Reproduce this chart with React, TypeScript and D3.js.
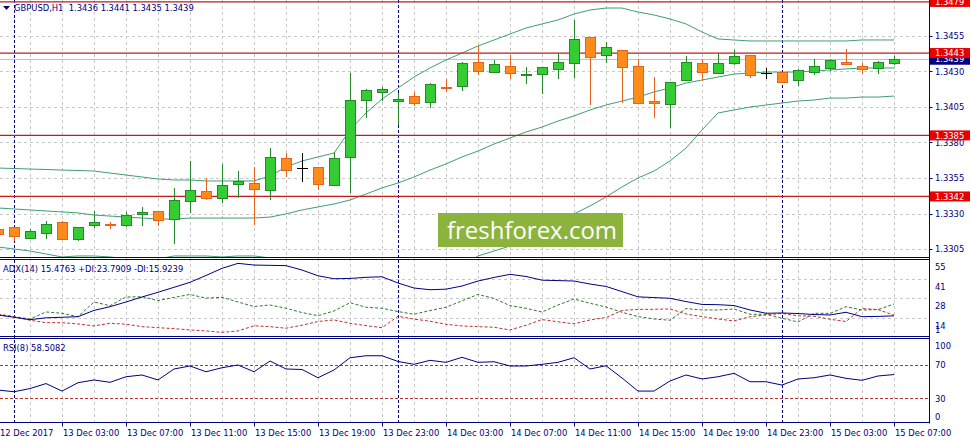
import React from "react";
import * as d3 from "d3";

// GBPUSD H1, bars from 12 Dec 23:00 to 15 Dec 07:00
const OPEN = [
  1.33191, 1.33205, 1.33127, 1.33163, 1.3324, 1.3312, 1.33219, 1.33226, 1.33219, 1.33297,
  1.33318, 1.33261, 1.33388, 1.33458, 1.33409, 1.33508, 1.33515, 1.33466, 1.33691, 1.3362,
  1.33628, 1.33501, 1.33698, 1.34099, 1.34156, 1.34092, 1.34127, 1.34085, 1.34191, 1.34198,
  1.34367, 1.34296, 1.34339, 1.34279, 1.34282, 1.34318, 1.3436, 1.34543, 1.34416, 1.34451,
  1.34339, 1.34092, 1.34071, 1.3424, 1.3436, 1.34289, 1.3436, 1.34416, 1.34289, 1.34296,
  1.3424, 1.34296, 1.34325, 1.34367, 1.34339, 1.34325, 1.3436,
];
const HIGH = [
  1.33205, 1.33205, 1.33191, 1.33247, 1.33247, 1.33205, 1.33318, 1.3324, 1.33311, 1.33346,
  1.33318, 1.3348, 1.3367, 1.3355, 1.33649, 1.33599, 1.33628, 1.33761, 1.33726, 1.33726,
  1.33628, 1.33733, 1.34289, 1.34177, 1.34191, 1.34149, 1.34156, 1.34219, 1.34247, 1.34367,
  1.3448, 1.34381, 1.34416, 1.34332, 1.34332, 1.3443, 1.34663, 1.34543, 1.34508, 1.34451,
  1.34388, 1.34261, 1.34226, 1.34409, 1.34388, 1.3443, 1.34451, 1.34416, 1.34325, 1.34296,
  1.34318, 1.34388, 1.34388, 1.34458, 1.3436, 1.34374, 1.3441,
];
const LOW = [
  1.33142, 1.33113, 1.33127, 1.33127, 1.3312, 1.33113, 1.33205, 1.33198, 1.33212, 1.33219,
  1.33219, 1.33092, 1.33311, 1.33402, 1.33381, 1.33416, 1.33226, 1.33402, 1.33564, 1.33529,
  1.33473, 1.33501, 1.33451, 1.3398, 1.34099, 1.3393, 1.34064, 1.3405, 1.34163, 1.3417,
  1.34282, 1.34296, 1.34254, 1.34219, 1.34149, 1.34254, 1.34261, 1.34071, 1.34367, 1.34085,
  1.34078, 1.3398, 1.33909, 1.3424, 1.3424, 1.34289, 1.34353, 1.34261, 1.34254, 1.34226,
  1.34205, 1.34282, 1.34311, 1.34353, 1.34289, 1.34289, 1.3435,
];
const CLOSE = [
  1.33156, 1.33142, 1.33177, 1.33226, 1.3312, 1.33205, 1.3324, 1.33219, 1.33289, 1.33311,
  1.33254, 1.33395, 1.33466, 1.33409, 1.33501, 1.33529, 1.33473, 1.33698, 1.33606, 1.3362,
  1.33508, 1.33691, 1.34099, 1.3417, 1.34177, 1.34106, 1.34078, 1.34212, 1.34187, 1.3436,
  1.34304, 1.34353, 1.34289, 1.34282, 1.34332, 1.34367, 1.34529, 1.34402, 1.34473, 1.34332,
  1.34078, 1.34078, 1.34226, 1.34367, 1.34296, 1.3436, 1.34409, 1.34275, 1.34289, 1.34226,
  1.34311, 1.34339, 1.34381, 1.34353, 1.34318, 1.34367, 1.3439,
];

// Bollinger bands
const BB_UPPER = [
  1.3362, 1.33617, 1.33613, 1.3361, 1.33606, 1.33603, 1.33599, 1.33585, 1.33571, 1.33557,
  1.33543, 1.33536, 1.33536, 1.33529, 1.33529, 1.33529, 1.33529, 1.33564, 1.33628, 1.3367,
  1.33698, 1.33726, 1.33888, 1.34008, 1.34106, 1.34184, 1.34261, 1.34325, 1.34381, 1.3443,
  1.3448, 1.34522, 1.34564, 1.34606, 1.34635, 1.34663, 1.34705, 1.34733, 1.34747, 1.34747,
  1.34719, 1.34698, 1.3467, 1.34635, 1.34578, 1.34529, 1.34522, 1.34515, 1.34515, 1.34515,
  1.34515, 1.34515, 1.34515, 1.34515, 1.34522, 1.34522, 1.34522,
];
const BB_MIDDLE = [
  1.33339, 1.33332, 1.33325, 1.33318, 1.33311, 1.33304, 1.33289, 1.33282, 1.33275, 1.33268,
  1.33261, 1.33261, 1.33268, 1.33268, 1.33268, 1.33268, 1.33268, 1.33275, 1.33297, 1.33325,
  1.33346, 1.33367, 1.33395, 1.33437, 1.3348, 1.33515, 1.33557, 1.33606, 1.33649, 1.33698,
  1.3374, 1.33789, 1.33832, 1.33874, 1.33909, 1.33951, 1.33987, 1.34029, 1.34064, 1.34092,
  1.3412, 1.34156, 1.34184, 1.34219, 1.3424, 1.34261, 1.34282, 1.34289, 1.34296, 1.34296,
  1.34296, 1.34304, 1.34311, 1.34318, 1.34325, 1.34325, 1.34325,
];
const BB_LOWER = [
  1.33064, 1.3305, 1.33036, 1.33015, 1.32994, 1.33001, 1.33001, 1.32994, 1.3298, 1.32973,
  1.3298, 1.33001, 1.33001, 1.33001, 1.32994, 1.33001, 1.33001, 1.32987, 1.32958, 1.3293,
  1.32902, 1.32867, 1.32797, 1.32747, 1.32726, 1.32719, 1.32726, 1.32797, 1.32853, 1.3293,
  1.33001, 1.33036, 1.33071, 1.33121, 1.33177, 1.3324, 1.33297, 1.33353, 1.33416, 1.33487,
  1.3355, 1.33599, 1.3367, 1.33761, 1.33888, 1.34008, 1.34029, 1.3405, 1.34064, 1.34078,
  1.34092, 1.34099, 1.34113, 1.34113, 1.3412, 1.3412, 1.34127,
];

// ADX(14)
const ADX = [
  16.1, 14.5, 12.8, 14.1, 14.5, 14.9, 19.3, 21.9, 25.2, 28.7,
  32.0, 35.5, 39.0, 43.8, 48.8, 52.3, 51.1, 50.9, 50.7, 47.6,
  43.6, 41.5, 41.7, 42.5, 42.9, 38.5, 35.0, 33.8, 34.2, 36.4,
  39.9, 42.4, 44.6, 43.1, 40.5, 40.2, 39.9, 37.8, 36.1, 32.5,
  28.8, 28.3, 27.8, 25.5, 23.5, 23.3, 22.7, 19.6, 17.3, 17.5,
  17.1, 16.4, 16.1, 18.0, 14.9, 15.1, 15.48,
];
const PLUS_DI = [
  16.1, 14.9, 13.3, 18.2, 17.3, 14.9, 25.2, 22.6, 28.7, 28.9,
  26.2, 28.4, 30.5, 27.9, 28.5, 25.2, 22.0, 23.1, 20.8, 17.8,
  15.6, 18.9, 24.7, 21.5, 20.8, 18.5, 16.6, 19.2, 21.5, 26.0,
  30.5, 27.7, 22.6, 20.8, 18.2, 23.1, 27.3, 24.3, 21.7, 18.0,
  15.0, 13.3, 12.4, 20.6, 19.6, 19.6, 20.3, 16.6, 16.6, 13.8,
  11.2, 17.3, 17.2, 21.9, 19.6, 19.9, 23.79,
];
const MINUS_DI = [
  16.8, 14.9, 12.4, 10.7, 10.7, 9.8, 8.4, 10.3, 9.6, 7.9,
  7.2, 6.5, 5.6, 4.9, 3.9, 4.9, 8.5, 7.9, 6.8, 8.9,
  11.5, 12.6, 10.3, 8.6, 7.2, 15.2, 13.2, 11.7, 9.6, 8.4,
  7.9, 7.5, 5.6, 8.9, 12.9, 11.3, 9.9, 12.6, 14.3, 19.3,
  20.0, 20.1, 20.3, 16.8, 15.0, 13.3, 11.9, 14.9, 16.1, 17.2,
  15.5, 15.2, 13.1, 11.5, 20.6, 19.9, 15.92,
];

// RSI(8)
const RSI = [
  39.9, 37.9, 41.7, 47.7, 38.7, 48.7, 52.0, 49.2, 55.9, 58.0,
  52.0, 65.2, 68.8, 61.9, 66.7, 70.0, 61.9, 74.8, 65.2, 64.6,
  54.7, 64.0, 78.7, 81.1, 81.1, 74.2, 70.8, 75.6, 73.2, 79.2,
  73.2, 73.9, 68.8, 68.8, 70.8, 73.2, 78.7, 65.2, 69.1, 54.4,
  38.7, 38.7, 50.8, 58.0, 53.2, 55.9, 60.0, 49.9, 49.9, 45.9,
  53.2, 54.7, 58.0, 54.0, 51.6, 56.8, 58.51,
];

// time axis: one label every 4 bars, starting at bar 0
const TIME_LABELS = [
  "12 Dec 2017", "13 Dec 03:00", "13 Dec 07:00", "13 Dec 11:00", "13 Dec 15:00",
  "13 Dec 19:00", "13 Dec 23:00", "14 Dec 03:00", "14 Dec 07:00", "14 Dec 11:00",
  "14 Dec 15:00", "14 Dec 19:00", "14 Dec 23:00", "15 Dec 03:00", "15 Dec 07:00",
];
const DAY_START_BARS = [1, 25, 49]; // 00:00 bars
const PRICE_TICKS = [1.3455, 1.343, 1.3405, 1.338, 1.3355, 1.333, 1.3305];
const LEVELS = [1.3479, 1.3443, 1.3385, 1.3342];
const ADX_TICKS = [55, 41, 28, 14, 1];
const RSI_TICKS = [100, 70, 30, 0];
const RSI_LEVELS = [70, 30];

const NAVY = "#000080";
const GRID = "#c8c8c8";
const BAND = "#3f9f72";
const LEVEL_RED = "#c41a1a";
const FONT = "'DejaVu Sans Condensed', 'Liberation Sans', sans-serif";
const FS = 9.3;

const crisp = (v: number) => Math.round(v) + 0.5;

export default function App() {
  const W = 971;
  const H = 437;
  const axisX = 929.5;
  const mainBottom = 257.5;
  const adxTop = 259.5;
  const adxBottom = 336.5;
  const rsiTop = 338.5;
  const rsiBottom = 422.5;

  const n = OPEN.length;
  const x = d3.scaleLinear().domain([0, n - 1]).range([-2, 894]);
  const y = d3.scaleLinear().domain([1.3305, 1.3455]).range([249, 36]);
  const yAdx = d3.scaleLinear().domain([1, 55]).range([336.5, 259.5]);
  const yRsi = d3.scaleLinear().domain([0, 100]).range([423.3, 340]);

  const priceLine = d3
    .line<number>()
    .x((_, i) => x(i))
    .y((d) => y(d));
  const adxLine = d3
    .line<number>()
    .x((_, i) => x(i))
    .y((d) => yAdx(d));
  const rsiLine = d3
    .line<number>()
    .x((_, i) => x(i))
    .y((d) => yRsi(d));

  const gridBars = d3.range(2, n, 2);
  const labelBars = d3.range(0, n, 4);
  const last = n - 1;

  return (
    <svg
      width={W}
      height={H}
      style={{ position: "absolute", left: 0, top: 0, background: "#fff" }}
      fontFamily={FONT}
    >
      <defs>
        <clipPath id="clipMain">
          <rect x={0} y={0} width={axisX} height={mainBottom} />
        </clipPath>
        <clipPath id="clipAdx">
          <rect x={0} y={adxTop} width={axisX} height={adxBottom - adxTop} />
        </clipPath>
        <clipPath id="clipRsi">
          <rect x={0} y={rsiTop} width={axisX} height={rsiBottom - rsiTop} />
        </clipPath>
      </defs>
      <rect x={0} y={0} width={W} height={H} fill="#fff" />

      {/* vertical grid */}
      {gridBars.map((i) => (
        <line
          key={"vg" + i}
          x1={crisp(x(i))}
          x2={crisp(x(i))}
          y1={0}
          y2={rsiBottom}
          stroke={GRID}
          strokeDasharray="3,3"
        />
      ))}
      {/* horizontal grid */}
      {PRICE_TICKS.map((p) => (
        <line key={"hg" + p} x1={0} x2={axisX} y1={crisp(y(p))} y2={crisp(y(p))} stroke={GRID} strokeDasharray="3,3" />
      ))}
      {ADX_TICKS.slice(1, 4).map((v) => (
        <line key={"ag" + v} x1={0} x2={axisX} y1={crisp(yAdx(v))} y2={crisp(yAdx(v))} stroke={GRID} strokeDasharray="3,3" />
      ))}

      {/* day separators */}
      {DAY_START_BARS.map((i) => (
        <line
          key={"ds" + i}
          x1={crisp(x(i))}
          x2={crisp(x(i))}
          y1={0}
          y2={rsiBottom}
          stroke={NAVY}
          strokeDasharray="3,2"
        />
      ))}

      {/* main panel */}
      <g clipPath="url(#clipMain)">
        <line x1={0} x2={axisX} y1={crisp(y(CLOSE[last]))} y2={crisp(y(CLOSE[last]))} stroke="#c0c0c0" />
        {[BB_UPPER, BB_MIDDLE, BB_LOWER].map((b, k) => (
          <path key={"bb" + k} d={priceLine(b) || ""} fill="none" stroke={BAND} strokeWidth={1} />
        ))}
        {LEVELS.map((p) => (
          <line key={"lv" + p} x1={0} x2={axisX} y1={y(p)} y2={y(p)} stroke={LEVEL_RED} strokeWidth={1.2} />
        ))}
        {OPEN.map((o, i) => {
          const c = CLOSE[i];
          const cx = Math.round(x(i));
          const wx = cx + 0.5;
          const yH = Math.round(y(HIGH[i]));
          const yL = Math.round(y(LOW[i]));
          if (o === c) {
            const yc = crisp(y(o));
            return (
              <g key={"c" + i} stroke="#000">
                <line x1={wx} x2={wx} y1={yH} y2={yL + 1} />
                <line x1={cx - 5} x2={cx + 6} y1={yc} y2={yc} />
              </g>
            );
          }
          const bull = c > o;
          const fill = bull ? "#33cc33" : "#ff8c1a";
          const stroke = bull ? "#23892a" : "#e8641e";
          const yTop = Math.round(y(Math.max(o, c)));
          const yBot = Math.round(y(Math.min(o, c)));
          return (
            <g key={"c" + i}>
              <line x1={wx} x2={wx} y1={yH} y2={yL + 1} stroke={stroke} />
              <rect
                x={cx - 4.5}
                y={yTop + 0.5}
                width={10}
                height={Math.max(yBot - yTop, 1)}
                fill={fill}
                stroke={stroke}
              />
            </g>
          );
        })}
      </g>

      {/* watermark */}
      <rect x={438} y={213} width={185} height={34} fill="#8db33f" />
      <text
        x={447}
        y={239}
        fill="#fff"
        fontFamily="'Open Sans', 'Noto Sans', sans-serif"
        fontSize={24}
        textLength={170}
        lengthAdjust="spacingAndGlyphs"
      >
        freshforex.com
      </text>

      {/* ADX panel */}
      <g clipPath="url(#clipAdx)" fill="none">
        <path d={adxLine(PLUS_DI) || ""} stroke="#2b7a2b" strokeDasharray="3,2" />
        <path d={adxLine(MINUS_DI) || ""} stroke="#c03030" strokeDasharray="3,2" />
        <path d={adxLine(ADX) || ""} stroke={NAVY} />
      </g>

      {/* RSI panel */}
      <g clipPath="url(#clipRsi)" fill="none">
        {RSI_LEVELS.map((v) => (
          <line key={"rl" + v} x1={0} x2={axisX} y1={crisp(yRsi(v))} y2={crisp(yRsi(v))} stroke="#c03030" strokeDasharray="3,2" />
        ))}
        <path d={rsiLine(RSI) || ""} stroke={NAVY} />
      </g>

      {/* panel borders */}
      <g stroke={NAVY} fill="none">
        <line x1={0} x2={axisX} y1={mainBottom} y2={mainBottom} />
        <line x1={0} x2={axisX} y1={adxTop} y2={adxTop} />
        <line x1={0} x2={axisX} y1={adxBottom} y2={adxBottom} />
        <line x1={0} x2={axisX} y1={rsiTop} y2={rsiTop} />
        <line x1={0} x2={axisX} y1={rsiBottom} y2={rsiBottom} />
        <line x1={axisX} x2={axisX} y1={0} y2={rsiBottom + 1} />
      </g>

      {/* price axis */}
      <g fontSize={FS} fill={NAVY}>
        {PRICE_TICKS.map((p) => (
          <g key={"pt" + p}>
            <line x1={axisX} x2={axisX + 3} y1={crisp(y(p))} y2={crisp(y(p))} stroke={NAVY} />
            <text x={935} y={y(p)} dy="0.35em">
              {p.toFixed(4)}
            </text>
          </g>
        ))}
      </g>
      {/* current price */}
      <rect x={930} y={y(CLOSE[last]) - 6} width={40} height={12} fill={NAVY} />
      <text x={935} y={y(CLOSE[last])} dy="0.35em" fontSize={FS} fill="#fff">
        {CLOSE[last].toFixed(4)}
      </text>
      {LEVELS.map((p) => (
        <g key={"ll" + p}>
          <rect x={930} y={y(p) - 5} width={40} height={10} fill="#e60000" />
          <text x={935} y={y(p)} dy="0.35em" fontSize={FS} fill="#fff">
            {p.toFixed(4)}
          </text>
        </g>
      ))}

      {/* ADX and RSI axes */}
      <g fontSize={FS} fill={NAVY}>
        {ADX_TICKS.map((v) => (
          <text key={"at" + v} x={935} y={Math.min(yAdx(v) + 7.5, 330)} dy="0.35em">
            {v}
          </text>
        ))}
        {RSI_TICKS.map((v) => (
          <text key={"rt" + v} x={935} y={Math.max(345.5, Math.min(yRsi(v), 416.5))} dy="0.35em">
            {v}
          </text>
        ))}
      </g>

      {/* time axis */}
      <g fontSize={FS} fill={NAVY}>
        {labelBars.map((i, k) => (
          <g key={"tl" + i}>
            <line x1={crisp(x(i))} x2={crisp(x(i))} y1={rsiBottom} y2={rsiBottom + 4} stroke={NAVY} />
            <text x={Math.max(0, x(i) + 1)} y={436}>
              {TIME_LABELS[k]}
            </text>
          </g>
        ))}
      </g>

      {/* headers */}
      <polygon points="3,6 10,6 6.5,10" fill={NAVY} />
      <text x={14} y={11} fontSize={FS} fill={NAVY} style={{ whiteSpace: "pre" }}>
        {`GBPUSD,H1  ${OPEN[last].toFixed(4)} ${HIGH[last].toFixed(4)} ${LOW[last].toFixed(4)} ${CLOSE[last].toFixed(4)}`}
      </text>
      <text x={3} y={272} fontSize={FS} fill={NAVY}>
        {`ADX(14) 15.4763 +DI:23.7909 -DI:15.9239`}
      </text>
      <text x={3} y={351} fontSize={FS} fill={NAVY}>
        {`RSI(8) 58.5082`}
      </text>
    </svg>
  );
}
